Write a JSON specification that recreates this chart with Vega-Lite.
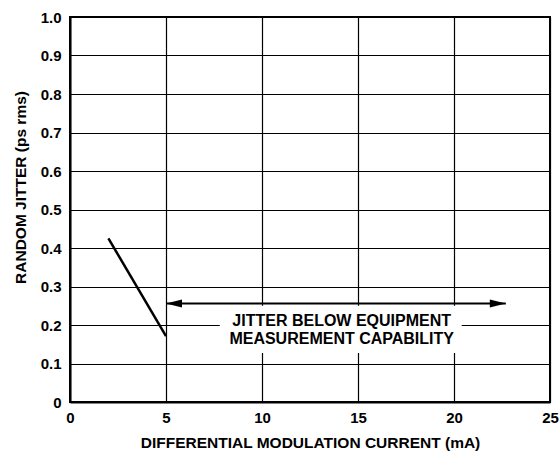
{
  "$schema": "https://vega.github.io/schema/vega-lite/v6.json",
  "width": 480,
  "height": 385,
  "autosize": {"type": "none"},
  "padding": {"left": 70, "top": 17, "right": 10, "bottom": 49},
  "background": "white",
  "config": {
    "view": {"stroke": "black", "strokeWidth": 2},
    "font": "Liberation Sans",
    "axis": {
      "grid": true,
      "gridColor": "black",
      "gridOpacity": 1,
      "gridWidth": 1.2,
      "domain": true,
      "domainColor": "black",
      "domainWidth": 2,
      "ticks": false,
      "labelFont": "Liberation Sans",
      "labelFontWeight": "bold",
      "labelFontSize": 15,
      "labelColor": "black",
      "labelFlush": false,
      "labelOverlap": false,
      "titleFont": "Liberation Sans",
      "titleFontWeight": "bold",
      "titleFontSize": 15.5,
      "titleColor": "black"
    }
  },
  "datasets": {
    "curve": [
      {"x": 2, "y": 0.425},
      {"x": 5, "y": 0.171}
    ],
    "arrow": [
      {"x": 5.0, "x2": 22.7, "y": 0.256}
    ],
    "heads": [
      {"x": 5.0, "y": 0.256, "dir": "left"},
      {"x": 22.7, "y": 0.256, "dir": "right"}
    ],
    "box": [
      {"x": 7.8, "x2": 20.4, "y": 0.127, "y2": 0.25}
    ],
    "notes": [
      {"x": 14.15, "y": 0.211, "text": "JITTER BELOW EQUIPMENT"},
      {"x": 14.15, "y": 0.163, "text": "MEASUREMENT CAPABILITY"}
    ]
  },
  "encoding": {
    "x": {"field": "x", "type": "quantitative", "scale": {"domain": [0, 25], "nice": false},
      "axis": {"values": [0, 5, 10, 15, 20, 25], "title": "DIFFERENTIAL MODULATION CURRENT (mA)", "labelPadding": 8, "titleY": 40, "titleBaseline": "middle"}},
    "y": {"field": "y", "type": "quantitative", "scale": {"domain": [0, 1], "nice": false},
      "axis": {"values": [0, 0.1, 0.2, 0.3, 0.4, 0.5, 0.6, 0.7, 0.8, 0.9, 1.0], "labelExpr": "datum.value == 0 ? '0' : format(datum.value, '.1f')", "title": "RANDOM JITTER (ps rms)", "labelPadding": 9, "titleX": -50, "titleY": 170, "titleBaseline": "middle"}}
  },
  "layer": [
    {
      "data": {"name": "box"},
      "mark": {"type": "rect", "fill": "white", "stroke": null},
      "encoding": {
        "x2": {"field": "x2"},
        "y2": {"field": "y2"}
      }
    },
    {
      "data": {"name": "curve"},
      "mark": {"type": "line", "color": "black", "strokeWidth": 2.5},
      "encoding": {}
    },
    {
      "data": {"name": "arrow"},
      "mark": {"type": "rule", "color": "black", "strokeWidth": 2},
      "encoding": {
        "x2": {"field": "x2"}
      }
    },
    {
      "data": {"name": "heads"},
      "mark": {"type": "point", "filled": true, "color": "black", "opacity": 1, "size": 256},
      "encoding": {
        "shape": {"field": "dir", "type": "nominal", "legend": null,
          "scale": {"domain": ["left", "right"], "range": ["M 0 0 L 2 -0.5 L 2 0.5 Z", "M 0 0 L -2 -0.5 L -2 0.5 Z"]}}
      }
    },
    {
      "data": {"name": "notes"},
      "mark": {"type": "text", "font": "Liberation Sans", "fontWeight": "bold", "fontSize": 16, "color": "black", "baseline": "middle", "align": "center"},
      "encoding": {
        "text": {"field": "text", "type": "nominal"}
      }
    }
  ]
}
